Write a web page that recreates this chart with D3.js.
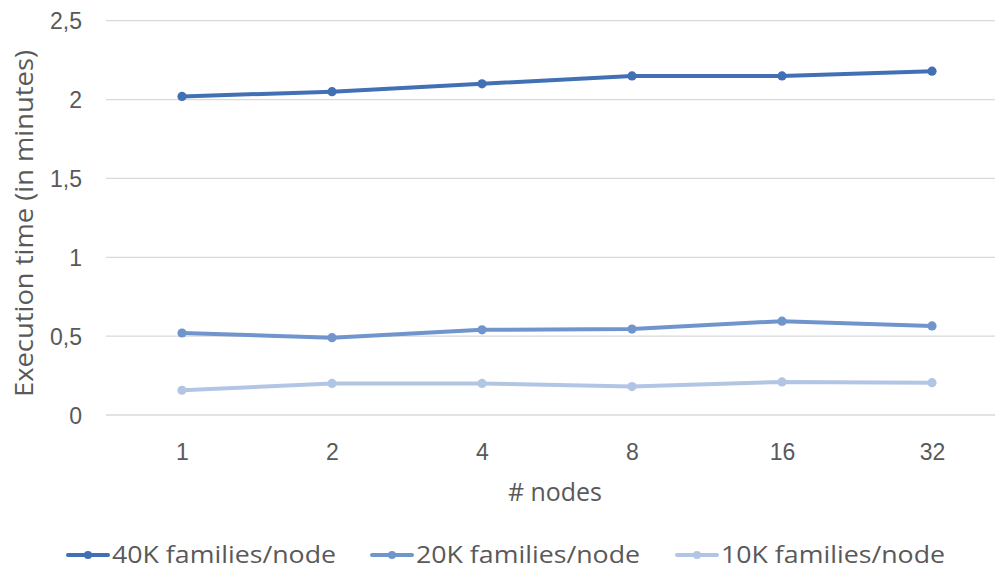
<!DOCTYPE html>
<html>
<head>
<meta charset="utf-8">
<script src="https://cdn.jsdelivr.net/npm/d3@7"></script>
<style>
  html, body { margin: 0; padding: 0; background: #fff; }
  svg { display: block; font-family: "Open Sans", sans-serif; }
</style>
</head>
<body>
<svg id="chart" width="995" height="571"></svg>
<script>
// Execution time (minutes) per node count, for three workloads per node
const nodes = ["1", "2", "4", "8", "16", "32"];
const seriesNames = ["40K families/node", "20K families/node", "10K families/node"];
const values40K = [2.02, 2.05, 2.10, 2.15, 2.15, 2.18];
const values20K = [0.52, 0.49, 0.54, 0.545, 0.595, 0.565];
const values10K = [0.157, 0.20, 0.20, 0.18, 0.21, 0.205];
const yTicks = [0, 0.5, 1, 1.5, 2, 2.5];
const colors = ["#4270b4", "#7094cc", "#b2c5e5"];

const series = [values40K, values20K, values10K].map((v, i) => ({
  name: seriesNames[i], color: colors[i],
  points: v.map((d, j) => ({ node: nodes[j], value: d }))
}));

const svg = d3.select("#chart");
const textColor = "#595959";

const x = d3.scalePoint().domain(nodes).range([107, 1007]).padding(0.5);
const y = d3.scaleLinear().domain([0, 2.5]).range([415, 20.7]);

// horizontal gridlines
svg.append("g")
  .selectAll("line")
  .data(yTicks)
  .join("line")
  .attr("x1", 106).attr("x2", 995)
  .attr("y1", d => y(d)).attr("y2", d => y(d))
  .attr("stroke", "#d9d9d9").attr("stroke-width", 1.3);

// y axis labels
const yAxis = d3.axisLeft(y).tickValues(yTicks).tickSize(0).tickPadding(0)
  .tickFormat(d => String(d).replace(".", ","));
svg.append("g").attr("transform", "translate(82,0)").call(yAxis)
  .call(g => g.select(".domain").remove())
  .call(g => g.selectAll("text").attr("fill", textColor).attr("font-size", 23)
    .attr("font-family", null).attr("dy", "0.36em"));

// x axis labels
const xAxis = d3.axisBottom(x).tickSize(0).tickPadding(0);
svg.append("g").call(xAxis)
  .call(g => g.select(".domain").remove())
  .call(g => g.selectAll("text").attr("fill", textColor).attr("font-size", 23)
    .attr("font-family", null).attr("y", 460).attr("dy", null));

// axis titles
svg.append("text")
  .attr("x", 555).attr("y", 501)
  .attr("text-anchor", "middle").attr("fill", textColor).attr("font-size", 25)
  .attr("textLength", 94).attr("lengthAdjust", "spacingAndGlyphs")
  .text("# nodes");
svg.append("text")
  .attr("transform", "translate(33,223.5) rotate(-90)")
  .attr("text-anchor", "middle").attr("fill", textColor).attr("font-size", 25)
  .attr("textLength", 347).attr("lengthAdjust", "spacingAndGlyphs")
  .text("Execution time (in minutes)");

// lines and markers
const line = d3.line().x(d => x(d.node)).y(d => y(d.value));
const sg = svg.append("g").selectAll("g").data(series).join("g");
sg.append("path")
  .attr("d", d => line(d.points))
  .attr("fill", "none").attr("stroke", d => d.color)
  .attr("stroke-width", 4).attr("stroke-linejoin", "round").attr("stroke-linecap", "round");
sg.selectAll("circle")
  .data(d => d.points.map(p => ({ ...p, color: d.color })))
  .join("circle")
  .attr("cx", d => x(d.node)).attr("cy", d => y(d.value))
  .attr("r", 4.6).attr("fill", d => d.color);

// legend
const legendX = [68, 372, 677];
const lg = svg.append("g").selectAll("g").data(series).join("g")
  .attr("transform", (d, i) => `translate(${legendX[i]},555)`);
lg.append("line").attr("x1", 0).attr("x2", 40).attr("y1", 0).attr("y2", 0)
  .attr("stroke", d => d.color).attr("stroke-width", 4).attr("stroke-linecap", "round");
lg.append("circle").attr("cx", 20).attr("cy", 0).attr("r", 4).attr("fill", d => d.color);
lg.append("text").attr("x", 44).attr("y", 8)
  .attr("fill", textColor).attr("font-size", 23.5)
  .attr("textLength", 224).attr("lengthAdjust", "spacingAndGlyphs")
  .text(d => d.name);
</script>
</body>
</html>
